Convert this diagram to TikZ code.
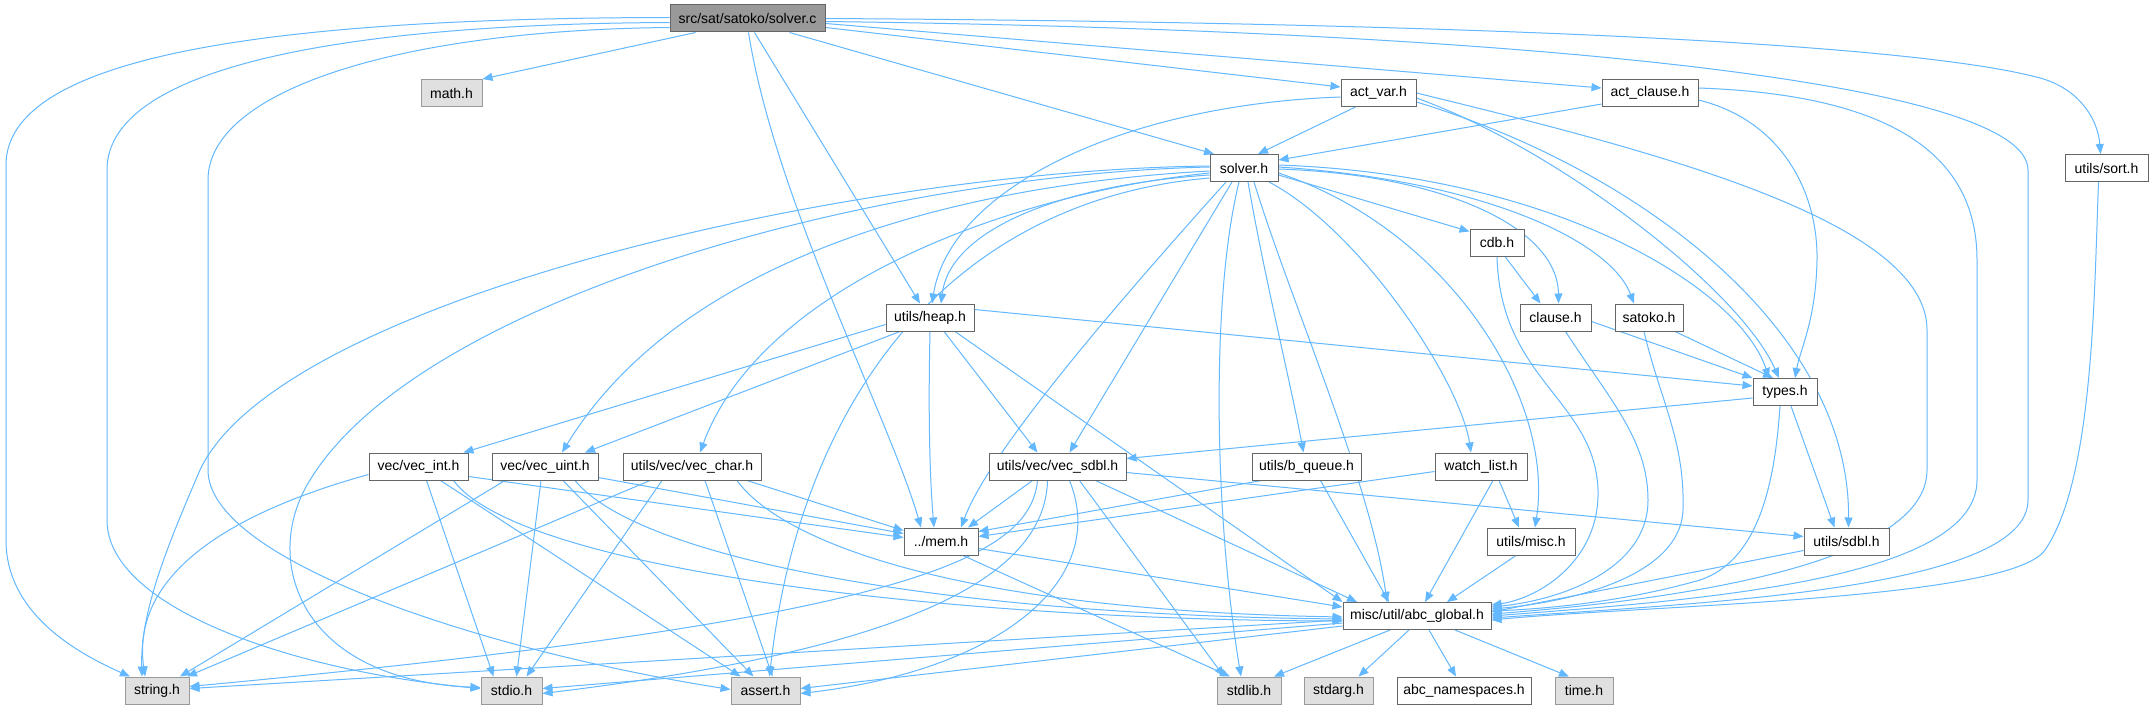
\documentclass[tikz,border=0pt]{standalone}
\usepackage{fontspec}
\setmainfont{Liberation Sans}
\usetikzlibrary{arrows.meta,backgrounds}
\definecolor{edgec}{HTML}{63B8FF}
\definecolor{nb}{HTML}{666666}
\definecolor{gb}{HTML}{999999}
\definecolor{gf}{HTML}{E0E0E0}
\definecolor{rf}{HTML}{999999}
\tikzset{
 box/.style={draw=nb, fill=white, line width=1pt, minimum height=27pt, inner sep=0pt, font=\fontsize{14}{16}\selectfont, text=black},
 sys/.style={box, draw=gb, fill=gf},
 root/.style={box, draw=nb, fill=rf},
 dep/.style={draw=edgec, line width=1pt, -{Triangle[length=10pt,width=8pt]}}
}
\begin{document}
\begin{tikzpicture}[x=1pt,y=-1pt]
\useasboundingbox (0,0) rectangle (2153,709);
\node[root, minimum width=155pt] (solverc) at (747.5,18.5) {src/sat/satoko/solver.c};
\node[sys, minimum width=61pt] (math) at (451.5,93) {math.h};
\node[box, minimum width=75pt] (actvar) at (1378.5,93) {act\_var.h};
\node[box, minimum width=96pt] (actclause) at (1650,93) {act\_clause.h};
\node[box, minimum width=68pt] (solverh) at (1244,168) {solver.h};
\node[box, minimum width=83pt] (sort) at (2106.5,168) {utils/sort.h};
\node[box, minimum width=54pt] (cdb) at (1497,242.5) {cdb.h};
\node[box, minimum width=88pt] (heap) at (930,317.5) {utils/heap.h};
\node[box, minimum width=71pt] (clause) at (1555.5,317.5) {clause.h};
\node[box, minimum width=68pt] (satoko) at (1649,317.5) {satoko.h};
\node[box, minimum width=64pt] (types) at (1785,392) {types.h};
\node[box, minimum width=99pt] (vecint) at (418.5,466.5) {vec/vec\_int.h};
\node[box, minimum width=106pt] (vecuint) at (545,466.5) {vec/vec\_uint.h};
\node[box, minimum width=138pt] (vecchar) at (692,466.5) {utils/vec/vec\_char.h};
\node[box, minimum width=137pt] (vecsdbl) at (1057.5,466.5) {utils/vec/vec\_sdbl.h};
\node[box, minimum width=109pt] (bqueue) at (1306.5,466.5) {utils/b\_queue.h};
\node[box, minimum width=92pt] (watch) at (1481,466.5) {watch\_list.h};
\node[box, minimum width=74pt] (mem) at (941,541.5) {../mem.h};
\node[box, minimum width=88pt] (misc) at (1531,541.5) {utils/misc.h};
\node[box, minimum width=85pt] (sdbl) at (1846.5,541.5) {utils/sdbl.h};
\node[box, minimum width=148pt] (abc) at (1417,616) {misc/util/abc\_global.h};
\node[sys, minimum width=64pt] (string) at (157,690.5) {string.h};
\node[sys, minimum width=61pt] (stdio) at (511.5,690.5) {stdio.h};
\node[sys, minimum width=69pt] (assert) at (765.5,690.5) {assert.h};
\node[sys, minimum width=64pt] (stdlib) at (1249,690.5) {stdlib.h};
\node[sys, minimum width=69pt] (stdarg) at (1338.5,690.5) {stdarg.h};
\node[box, minimum width=134pt] (ns) at (1464,690.5) {abc\_namespaces.h};
\node[sys, minimum width=58pt] (time) at (1584,690.5) {time.h};
\begin{scope}[on background layer]
\fill[white] (0,0) rectangle (2153,709);
% solver.c
\draw[dep] ([yshift=1]solverc.west) .. controls (250,18) and (6,60) .. (6,165) -- (6,540) .. controls (6,610) and (70,650) .. ([xshift=-27]string.north);
\draw[dep] ([yshift=-4]solverc.west) .. controls (330,24) and (107,70) .. (107,170) -- (107,520) .. controls (107,610) and (300,672) .. ([yshift=2]stdio.west);
\draw[dep] ([yshift=-9]solverc.west) .. controls (400,30) and (208,90) .. (208,180) -- (208,470) .. controls (208,560) and (480,650) .. ([yshift=1]assert.west);
\draw[dep] ([xshift=-52]solverc.south) -- (math.north east);
\draw[dep] ([xshift=7]solverc.south) -- ([xshift=-10]heap.north);
\draw[dep] ([xshift=1]solverc.south) .. controls (775,200) and (890,420) .. ([xshift=-20]mem.north);
\draw[dep] ([xshift=42]solverc.south) -- ([xshift=-30]solverh.north);
\draw[dep] ([yshift=-9]solverc.east) -- ([yshift=6]actvar.west);
\draw[dep] ([yshift=-5]solverc.east) -- ([yshift=5]actclause.west);
\draw[dep] (solverc.east) .. controls (1400,22) and (1900,40) .. (2040,78) .. controls (2080,89) and (2098,120) .. ([xshift=-6]sort.north);
\draw[dep] ([yshift=-3]solverc.east) .. controls (1500,30) and (2028,80) .. (2028,170) -- (2028,500) .. controls (2028,590) and (1700,603) .. ([yshift=-2]abc.east);
% act_clause
\draw[dep] ([yshift=5]actclause.east) .. controls (1900,95) and (1977,160) .. (1977,260) -- (1977,480) .. controls (1977,580) and (1700,600) .. ([yshift=0]abc.east);
\draw[dep] ([yshift=-7]actclause.east) .. controls (1780,120) and (1818,190) .. (1817,260) .. controls (1816,320) and (1800,350) .. ([xshift=10]types.north);
\draw[dep] ([yshift=-11]actclause.west) -- ([yshift=8]solverh.east);
% act_var
\draw[dep] ([xshift=-23]actvar.south) -- ([xshift=14]solverh.north);
\draw[dep] ([yshift=-4]actvar.west) .. controls (1120,105) and (950,190) .. ([xshift=2]heap.north);
\draw[dep] ([yshift=-5]actvar.east) .. controls (1560,150) and (1740,290) .. ([xshift=-6]types.north);
\draw[dep] ([yshift=-9]actvar.east) .. controls (1640,170) and (1850,330) .. ([xshift=2]sdbl.north);
\draw[dep] (actvar.east) .. controls (1650,150) and (1927,220) .. (1927,330) -- (1927,470) .. controls (1927,560) and (1700,598) .. ([yshift=2]abc.east);
% solver.h
\draw[dep] ([yshift=-7]solverh.east) -- ([yshift=-3]cdb.north west);
\draw[dep] ([yshift=-1]solverh.east) .. controls (1450,175) and (1558,230) .. ([xshift=3]clause.north);
\draw[dep] ([yshift=1]solverh.east) .. controls (1480,180) and (1610,240) .. ([xshift=-15]satoko.north);
\draw[dep] ([yshift=3]solverh.east) .. controls (1560,175) and (1740,290) .. ([xshift=-16]types.north);
\draw[dep] ([xshift=25]solverh.south) .. controls (1360,230) and (1460,380) .. ([xshift=-10]watch.north);
\draw[dep] ([yshift=-5]solverh.east) .. controls (1450,230) and (1555,400) .. ([xshift=4]misc.north);
\draw[dep] ([xshift=10]solverh.south) .. controls (1290,300) and (1370,480) .. ([xshift=-30]abc.north);
\draw[dep] ([xshift=4]solverh.south) .. controls (1265,280) and (1290,380) .. ([xshift=-3]bqueue.north);
\draw[dep] ([xshift=-5]solverh.south) .. controls (1210,300) and (1215,520) .. ([xshift=-8]stdlib.north);
\draw[dep] ([xshift=-12]solverh.south) -- ([xshift=12]vecsdbl.north);
\draw[dep] ([xshift=-18]solverh.south) .. controls (1120,300) and (990,450) .. ([xshift=20]mem.north);
\draw[dep] ([yshift=-10]solverh.west) .. controls (950,200) and (800,400) .. ([xshift=4]assert.north);
\draw[dep] ([yshift=-3]solverh.west) .. controls (950,185) and (680,260) .. ([xshift=17]vecuint.north);
\draw[dep] ([yshift=-5]solverh.west) .. controls (1000,195) and (760,290) .. ([xshift=8]vecchar.north);
\draw[dep] ([yshift=-7]solverh.west) .. controls (1060,185) and (950,230) .. ([xshift=11]heap.north);
\draw[dep] ([yshift=2]solverh.west) .. controls (850,170) and (280,300) .. (200,470) .. controls (170,540) and (140,610) .. ([xshift=-15]string.north);
\draw[dep] ([yshift=1]solverh.west) .. controls (870,175) and (420,300) .. (310,480) .. controls (260,560) and (300,680) .. ([yshift=3]stdio.west);
% cdb, clause, satoko, types
\draw[dep] ([xshift=8]cdb.south) -- ([xshift=-15]clause.north);
\draw[dep] (cdb.south) .. controls (1500,380) and (1595,400) .. (1598,490) .. controls (1600,560) and (1540,598) .. ([yshift=11]abc.east);
\draw[dep] ([xshift=10]clause.south) .. controls (1610,400) and (1648,440) .. (1648,500) .. controls (1648,570) and (1560,600) .. ([yshift=9]abc.east);
\draw[dep] ([yshift=-4]clause.east) -- (types.north west);
\draw[dep] ([xshift=26]satoko.south) -- ([xshift=-12]types.north);
\draw[dep] ([xshift=-5]satoko.south) .. controls (1660,400) and (1685,440) .. (1683,510) .. controls (1680,580) and (1560,603) .. ([yshift=7]abc.east);
\draw[dep] ([yshift=-6]types.west) -- ([yshift=8]vecsdbl.east);
\draw[dep] ([xshift=6]types.south) -- ([xshift=-12]sdbl.north);
\draw[dep] ([xshift=-5]types.south) .. controls (1775,480) and (1760,560) .. (1700,580) .. controls (1620,603) and (1540,609) .. ([yshift=5]abc.east);
% heap
\draw[dep] ([yshift=8]heap.east) -- ([yshift=6]types.west);
\draw[dep] ([yshift=-7]heap.west) -- ([xshift=-5]vecint.north east);
\draw[dep] ([xshift=-30]heap.south) -- ([xshift=40]vecuint.north);
\draw[dep] ([xshift=14]heap.south) -- ([xshift=-20]vecsdbl.north);
\draw[dep] (heap.south) .. controls (928,420) and (930,480) .. ([xshift=-7]mem.north);
\draw[dep] ([xshift=25]heap.south) -- (abc.north west);
% vec_int
\draw[dep] ([yshift=-8]vecint.west) .. controls (240,510) and (130,570) .. ([xshift=-12]string.north);
\draw[dep] ([xshift=8]vecint.south) -- ([xshift=-18]stdio.north);
\draw[dep] ([xshift=22]vecint.south) -- ([xshift=-25]assert.north);
\draw[dep] ([yshift=-10]vecint.east) -- ([yshift=4]mem.west);
\draw[dep] ([xshift=35]vecint.south) .. controls (520,570) and (950,620) .. ([yshift=-5]abc.west);
% vec_uint
\draw[dep] ([xshift=-40]vecuint.south) -- ([xshift=23]string.north);
\draw[dep] ([xshift=-4]vecuint.south) -- ([xshift=5]stdio.north);
\draw[dep] ([xshift=18]vecuint.south) -- ([xshift=-12]assert.north);
\draw[dep] ([yshift=-11]vecuint.east) -- ([yshift=8]mem.west);
\draw[dep] ([xshift=30]vecuint.south) .. controls (640,560) and (950,615) .. ([yshift=-3]abc.west);
% vec_char
\draw[dep] ([xshift=-42]vecchar.south) -- ([xshift=30]string.north);
\draw[dep] ([xshift=-30]vecchar.south) -- ([xshift=15]stdio.north);
\draw[dep] ([xshift=13]vecchar.south) -- ([xshift=7]assert.north);
\draw[dep] ([xshift=55]vecchar.south) -- ([yshift=11]mem.west);
\draw[dep] ([xshift=45]vecchar.south) .. controls (780,540) and (950,610) .. ([yshift=-1]abc.west);
% vec_sdbl
\draw[dep] ([xshift=-25]vecsdbl.south) -- ([xshift=27]mem.north);
\draw[dep] ([xshift=-20]vecsdbl.south) .. controls (1030,560) and (900,620) .. ([yshift=4]string.east);
\draw[dep] ([xshift=-10]vecsdbl.south) .. controls (1045,580) and (900,650) .. ([yshift=-3]stdio.east);
\draw[dep] ([xshift=12]vecsdbl.south) .. controls (1110,580) and (1000,670) .. ([yshift=-3]assert.east);
\draw[dep] ([xshift=22]vecsdbl.south) -- ([xshift=-25]stdlib.north);
\draw[dep] ([xshift=38]vecsdbl.south) -- ([xshift=-60]abc.north);
\draw[dep] ([yshift=-6]vecsdbl.east) -- ([yshift=5]sdbl.west);
% b_queue, watch_list, misc, sdbl, sort
\draw[dep] ([xshift=-45]bqueue.south) -- ([yshift=10]mem.east);
\draw[dep] ([xshift=14]bqueue.south) -- ([xshift=-28]abc.north);
\draw[dep] ([yshift=-5]watch.west) -- ([yshift=5]mem.east);
\draw[dep] ([xshift=18]watch.south) -- ([xshift=-12]misc.north);
\draw[dep] ([xshift=12]watch.south) -- ([xshift=8]abc.north);
\draw[dep] ([xshift=-15]misc.south) -- ([xshift=30]abc.north);
\draw[dep] ([yshift=-9]sdbl.west) -- ([yshift=4]abc.east);
\draw[dep] ([xshift=-8]sort.south) .. controls (2094,300) and (2093,480) .. (2045,550) .. controls (2010,600) and (1650,605) .. ([yshift=-4]abc.east);
% mem
\draw[dep] ([xshift=22]mem.south) -- ([xshift=-19]stdlib.north);
\draw[dep] ([yshift=-7]mem.east) -- ([yshift=-5]abc.north west);
% abc_global
\draw[dep] ([xshift=-27]abc.south) -- ([xshift=25]stdlib.north);
\draw[dep] ([xshift=-8]abc.south) -- ([xshift=20]stdarg.north);
\draw[dep] ([xshift=12]abc.south) -- ([xshift=-8]ns.north);
\draw[dep] ([xshift=38]abc.south) -- ([xshift=-15]time.north);
\draw[dep] ([yshift=-4]abc.west) -- ([yshift=2]string.east);
\draw[dep] ([yshift=-7]abc.west) -- ([yshift=2]stdio.east);
\draw[dep] ([yshift=-10]abc.west) -- ([yshift=2]assert.east);
\end{scope}
\end{tikzpicture}
\end{document}
